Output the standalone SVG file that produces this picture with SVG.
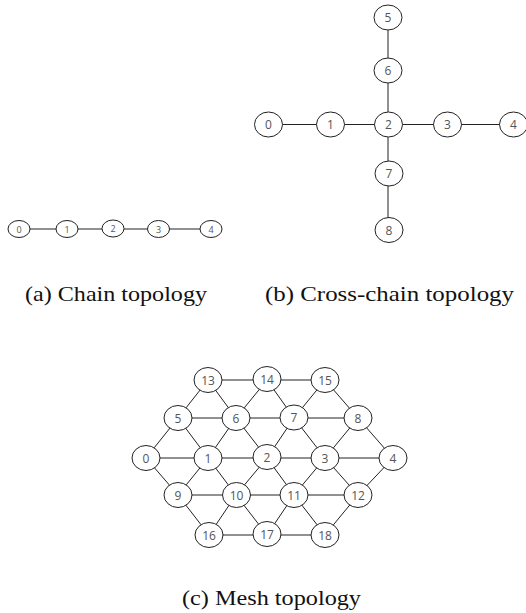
<svg xmlns="http://www.w3.org/2000/svg" width="526" height="613" viewBox="0 0 526 613">
<style>
.e{stroke:#222;stroke-width:1;fill:none}
.n ellipse{fill:#fff;stroke:#222;stroke-width:1}
.n text{font-family:"Open Sans","DejaVu Sans",sans-serif;fill:#555;text-anchor:middle;dominant-baseline:central}
.m text{font-size:12px}
.c text{font-size:9px}
</style>
<rect width="526" height="613" fill="#fff"/>
<!-- Chain -->
<g id="chain-edges">
<path class="e" d="M19 229H211"/>
</g>
<g class="n c">
<g id="a0"><ellipse cx="19" cy="229" rx="11" ry="8.5"/><text x="19" y="229">0</text></g>
<g id="a1"><ellipse cx="67" cy="229" rx="11" ry="8.5"/><text x="67" y="229">1</text></g>
<g id="a2"><ellipse cx="113" cy="228.5" rx="11" ry="8.5"/><text x="113" y="228.5">2</text></g>
<g id="a3"><ellipse cx="158.5" cy="229" rx="11" ry="8.5"/><text x="158.5" y="229">3</text></g>
<g id="a4"><ellipse cx="211" cy="229" rx="11" ry="8.5"/><text x="211" y="229">4</text></g>
</g>
<!-- Cross-chain -->
<g id="cross-edges">
<path class="e" d="M268 124.5H514M388 17V230"/>
</g>
<g class="n m">
<g id="b0"><ellipse cx="268.5" cy="124.5" rx="14" ry="12.5"/><text x="268.5" y="124.5">0</text></g>
<g id="b1"><ellipse cx="330.5" cy="124.5" rx="14" ry="12.5"/><text x="330.5" y="124.5">1</text></g>
<g id="b2"><ellipse cx="388.5" cy="124.5" rx="14" ry="12.5"/><text x="388.5" y="124.5">2</text></g>
<g id="b3"><ellipse cx="447.5" cy="124.5" rx="14" ry="12.5"/><text x="447.5" y="124.5">3</text></g>
<g id="b4"><ellipse cx="513.5" cy="124.5" rx="14" ry="12.5"/><text x="513.5" y="124.5">4</text></g>
<g id="b5"><ellipse cx="388" cy="17.5" rx="14" ry="12.5"/><text x="388" y="17.5">5</text></g>
<g id="b6"><ellipse cx="388" cy="70.5" rx="14" ry="12.5"/><text x="388" y="70.5">6</text></g>
<g id="b7"><ellipse cx="389" cy="173.5" rx="14" ry="12.5"/><text x="389" y="173.5">7</text></g>
<g id="b8"><ellipse cx="389" cy="230" rx="14" ry="12.5"/><text x="389" y="230">8</text></g>
</g>
<!-- Mesh -->
<g id="mesh-edges" class="e">
<path d="M208 380H325M178 418H358M146 458H393M178 495H358M209 535H325"/>
<path d="M208 380L178 418M208 380L236 418M267 380L236 418M267 380L294 418M325 380L294 418M325 380L358 418"/>
<path d="M146 458L178 418M208 458L178 418M208 458L236 418M267 458L236 418M267 458L294 418M325 458L294 418M325 458L358 418M393 458L358 418"/>
<path d="M146 458L178 495M208 458L178 495M208 458L236 495M267 458L236 495M267 458L294 495M325 458L294 495M325 458L358 495M393 458L358 495"/>
<path d="M178 495L209 535M236 495L209 535M236 495L267 535M294 495L267 535M294 495L325 535M358 495L325 535"/>
</g>
<g class="n m">
<g id="c0"><ellipse cx="146" cy="458" rx="14" ry="12.5"/><text x="146" y="458">0</text></g>
<g id="c1"><ellipse cx="208" cy="458" rx="14" ry="12.5"/><text x="208" y="458">1</text></g>
<g id="c2"><ellipse cx="267" cy="457" rx="14" ry="12.5"/><text x="267" y="457">2</text></g>
<g id="c3"><ellipse cx="325" cy="458" rx="14" ry="12.5"/><text x="325" y="458">3</text></g>
<g id="c4"><ellipse cx="393" cy="458" rx="14" ry="12.5"/><text x="393" y="458">4</text></g>
<g id="c5"><ellipse cx="178" cy="418" rx="14" ry="12.5"/><text x="178" y="418">5</text></g>
<g id="c6"><ellipse cx="236" cy="418" rx="14" ry="12.5"/><text x="236" y="418">6</text></g>
<g id="c7"><ellipse cx="294" cy="417.5" rx="14" ry="12.5"/><text x="294" y="417.5">7</text></g>
<g id="c8"><ellipse cx="358" cy="418" rx="14" ry="12.5"/><text x="358" y="418">8</text></g>
<g id="c9"><ellipse cx="178" cy="495" rx="14" ry="12.5"/><text x="178" y="495">9</text></g>
<g id="c10"><ellipse cx="236.5" cy="495" rx="14" ry="12.5"/><text x="236.5" y="495">10</text></g>
<g id="c11"><ellipse cx="294" cy="495" rx="14" ry="12.5"/><text x="294" y="495">11</text></g>
<g id="c12"><ellipse cx="358" cy="495" rx="14" ry="12.5"/><text x="358" y="495">12</text></g>
<g id="c13"><ellipse cx="208" cy="380" rx="14" ry="12.5"/><text x="208" y="380">13</text></g>
<g id="c14"><ellipse cx="267" cy="379" rx="14" ry="12.5"/><text x="267" y="379">14</text></g>
<g id="c15"><ellipse cx="325" cy="380" rx="14" ry="12.5"/><text x="325" y="380">15</text></g>
<g id="c16"><ellipse cx="209" cy="535" rx="14" ry="12.5"/><text x="209" y="535">16</text></g>
<g id="c17"><ellipse cx="267" cy="534" rx="14" ry="12.5"/><text x="267" y="534">17</text></g>
<g id="c18"><ellipse cx="325" cy="535" rx="14" ry="12.5"/><text x="325" y="535">18</text></g>
</g>
<!-- Captions -->
<g id="captions" font-family="'Liberation Serif', 'DejaVu Serif', serif" font-size="21" fill="#111">
<text x="25" y="301" textLength="182" lengthAdjust="spacingAndGlyphs">(a) Chain topology</text>
<text x="265" y="301" textLength="249" lengthAdjust="spacingAndGlyphs">(b) Cross-chain topology</text>
<text x="182" y="605" textLength="179" lengthAdjust="spacingAndGlyphs">(c) Mesh topology</text>
</g>
</svg>
